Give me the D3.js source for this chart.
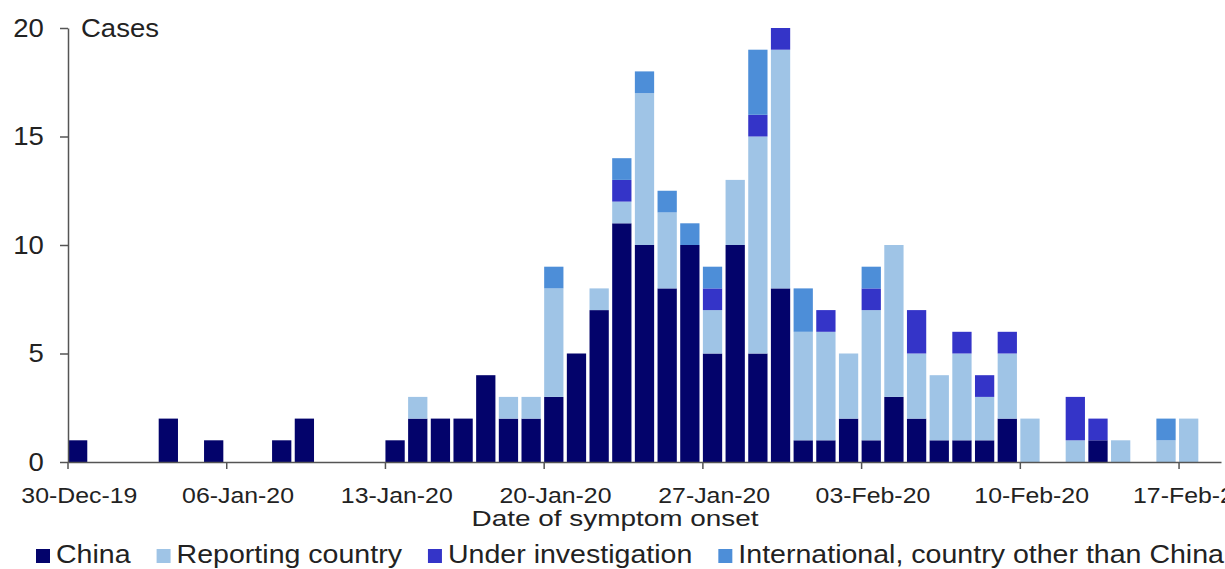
<!DOCTYPE html>
<html>
<head>
<meta charset="utf-8">
<script src="https://cdn.jsdelivr.net/npm/d3@7"></script>
<style>
  body { margin: 0; background: #fff; }
  svg { display: block; font-family: "Liberation Sans", Arial, sans-serif; }
</style>
</head>
<body>
<svg width="1225" height="569"></svg>
<script>
// Days from 30-Dec-19 to 18-Feb-20 (one value per day)
const dates = d3.timeDay.range(new Date(2019, 11, 30), new Date(2020, 1, 19));

const china = [1,0,0,0,2,0,1,0,0,1, 2,0,0,0,1,2,2,2,4,2, 2,3,5,7,11,10,8,10,5,10, 5,8,1,1,2,1,3,2,1,1, 1,2,0,0,0,1,0,0,0,0, 0];
const reporting = [0,0,0,0,0,0,0,0,0,0, 0,0,0,0,0,1,0,0,0,1, 1,5,0,1,1,7,3.5,0,2,3, 10,11,5,5,3,6,7,3,3,4, 2,3,2,0,1,0,1,0,1,2, 0];
const investigation = [0,0,0,0,0,0,0,0,0,0, 0,0,0,0,0,0,0,0,0,0, 0,0,0,0,1,0,0,0,1,0, 1,1,0,1,0,1,0,2,0,1, 1,1,0,0,2,1,0,0,0,0, 0];
const international = [0,0,0,0,0,0,0,0,0,0, 0,0,0,0,0,0,0,0,0,0, 0,1,0,0,1,1,1,1,1,0, 3,0,2,0,0,1,0,0,0,0, 0,0,0,0,0,0,0,0,1,0, 0];

const seriesNames = ["China", "Reporting country", "Under investigation", "International, country other than China"];
const seriesColors = ["#03036b", "#9fc4e6", "#3434c8", "#4d8ed8"];
const yTicks = [0, 5, 10, 15, 20];

const svg = d3.select("svg");
svg.append("rect").attr("width", 1225).attr("height", 569).attr("fill", "#fff");

const table = dates.map((d, i) => ({
  date: d,
  s0: china[i], s1: reporting[i], s2: investigation[i], s3: international[i]
}));
const keys = ["s0", "s1", "s2", "s3"];
const stacked = d3.stack().keys(keys)(table);

const x = d3.scaleBand()
  .domain(dates)
  .range([68, 1221])
  .paddingInner(0.15)
  .paddingOuter(0);

const y = d3.scaleLinear()
  .domain([0, 20])
  .range([462, 28]);

// bars
svg.append("g")
  .selectAll("g")
  .data(stacked)
  .join("g")
    .attr("fill", (d, i) => seriesColors[i])
  .selectAll("rect")
  .data(d => d)
  .join("rect")
    .attr("x", d => x(d.data.date))
    .attr("width", x.bandwidth())
    .attr("y", d => y(d[1]))
    .attr("height", d => y(d[0]) - y(d[1]));

// y axis
const yAxis = svg.append("g")
  .attr("transform", "translate(68,0)")
  .call(d3.axisLeft(y).tickValues(yTicks).tickSize(8).tickPadding(14).tickSizeOuter(0));
yAxis.select(".domain").attr("stroke", "#555").attr("stroke-width", 1.5);
yAxis.selectAll(".tick line").attr("stroke", "#555").attr("stroke-width", 1.5);
yAxis.selectAll(".tick text")
  .attr("fill", "#222")
  .style("font-size", "25px")
  .attr("transform", "scale(1.1,1)");

svg.append("text")
  .attr("transform", "translate(81,37) scale(1.1,1)")
  .attr("fill", "#222")
  .style("font-size", "25px")
  .text("Cases");

// x axis: ticks at the start of each week, labels centred on that day's bar
const weekly = dates.filter((d, i) => i % 7 === 0);
const xAxis = svg.append("g")
  .attr("transform", "translate(0,462)")
  .call(d3.axisBottom(x)
    .tickValues(weekly)
    .tickSize(7)
    .tickPadding(18)
    .tickSizeOuter(0)
    .tickFormat(d3.timeFormat("%d-%b-%y")));
xAxis.selectAll(".tick").attr("transform", d => `translate(${x(d)},0)`);
xAxis.select(".domain").attr("stroke", "#555").attr("stroke-width", 1.5);
xAxis.selectAll(".tick line").attr("stroke", "#555").attr("stroke-width", 1.5);
xAxis.selectAll(".tick text")
  .attr("fill", "#222")
  .style("font-size", "22px")
  .attr("x", 0)
  .attr("transform", `translate(${x.step() / 2},0) scale(1.13,1)`);

svg.append("text")
  .attr("transform", "translate(615,526) scale(1.27,1)")
  .attr("text-anchor", "middle")
  .attr("fill", "#222")
  .style("font-size", "22px")
  .text("Date of symptom onset");

// legend
let lx = 36;
seriesNames.forEach((name, i) => {
  const g = svg.append("g").attr("transform", `translate(${lx},0)`);
  g.append("rect")
    .attr("x", 0).attr("y", 549)
    .attr("width", 14).attr("height", 14)
    .attr("fill", seriesColors[i]);
  const t = g.append("text")
    .attr("transform", "translate(20,563) scale(1.12,1)")
    .attr("fill", "#222")
    .style("font-size", "25.5px")
    .text(name);
  lx += 20 + t.node().getComputedTextLength() * 1.12 + 26;
});
</script>
</body>
</html>
